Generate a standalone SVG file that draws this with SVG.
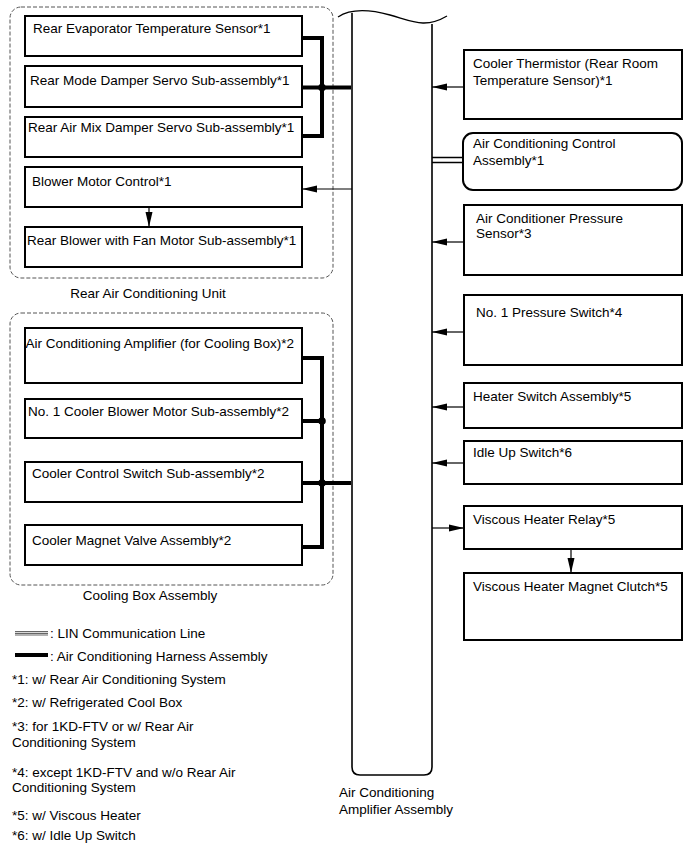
<svg xmlns="http://www.w3.org/2000/svg" width="690" height="854" viewBox="0 0 690 854">
<defs>
<style>
text{font-family:"Liberation Sans",Arial,sans-serif;font-size:13.5px;fill:#000}
.box{fill:#fff;stroke:#000;stroke-width:2}
.grp{fill:none;stroke:#555;stroke-width:1;stroke-dasharray:4 2}
.thin{fill:none;stroke:#000;stroke-width:1.2}
.col{fill:none;stroke:#000;stroke-width:1.6}
.bus{fill:none;stroke:#000;stroke-width:4}
</style>
<marker id="ah" markerUnits="userSpaceOnUse" markerWidth="16" markerHeight="10" refX="15" refY="4" orient="auto">
<path d="M0,0.5 L15,4 L0,7.5 Z" fill="#000"/>
</marker>
</defs>
<rect width="690" height="854" fill="#fff"/>

<g id="amplifier">
<path class="col" d="M352,13 V767 Q352,775 360,775 H424 Q432,775 432,767 V24"/>
<path fill="none" stroke="#000" stroke-width="1.3" d="M338,17 C350,9 368,9 390,15 S425,29 447,16"/>
<text x="339" y="797">Air Conditioning</text>
<text x="339" y="814">Amplifier Assembly</text>
</g>

<g id="rear-unit">
<rect class="grp" x="10" y="7" width="323" height="271" rx="11"/>
<text x="148" y="298" text-anchor="middle">Rear Air Conditioning Unit</text>
</g>
<g id="rear-evap"><rect class="box" x="25" y="16" width="277" height="40"/><text x="33" y="33">Rear Evaporator Temperature Sensor*1</text></g>
<g id="rear-mode"><rect class="box" x="25" y="66" width="277" height="41"/><text x="30" y="84.5">Rear Mode Damper Servo Sub-assembly*1</text></g>
<g id="rear-airmix"><rect class="box" x="25" y="117" width="277" height="40"/><text x="28" y="132">Rear Air Mix Damper Servo Sub-assembly*1</text></g>
<g id="blower-ctrl"><rect class="box" x="25" y="167" width="277" height="40"/><text x="32" y="186">Blower Motor Control*1</text></g>
<g id="rear-blower"><rect class="box" x="25" y="227" width="277" height="40"/><text x="27" y="244.5">Rear Blower with Fan Motor Sub-assembly*1</text></g>

<g id="cooling-box">
<rect class="grp" x="10" y="313" width="323" height="272" rx="11"/>
<text x="150" y="600" text-anchor="middle">Cooling Box Assembly</text>
</g>
<g id="cb-amp"><rect class="box" x="25" y="328" width="277" height="55"/><text x="25.5" y="348">Air Conditioning Amplifier (for Cooling Box)*2</text></g>
<g id="cb-blower"><rect class="box" x="25" y="399" width="277" height="39"/><text x="28" y="416">No. 1 Cooler Blower Motor Sub-assembly*2</text></g>
<g id="cb-switch"><rect class="box" x="25" y="462" width="277" height="40"/><text x="32" y="478">Cooler Control Switch Sub-assembly*2</text></g>
<g id="cb-valve"><rect class="box" x="25" y="525" width="277" height="40"/><text x="32" y="544.5">Cooler Magnet Valve Assembly*2</text></g>

<g id="cooler-thermistor"><rect class="box" x="464" y="50" width="218" height="69"/><text x="473" y="68">Cooler Thermistor (Rear Room</text><text x="473" y="84.5">Temperature Sensor)*1</text></g>
<g id="ac-control"><rect class="box" x="463" y="133" width="219" height="57" rx="10"/><text x="473" y="148">Air Conditioning Control</text><text x="473" y="164.5">Assembly*1</text></g>
<g id="pressure-sensor"><rect class="box" x="464" y="205" width="218" height="70"/><text x="476" y="223">Air Conditioner Pressure</text><text x="476" y="238">Sensor*3</text></g>
<g id="pressure-switch"><rect class="box" x="464" y="295" width="218" height="70"/><text x="476" y="317">No. 1 Pressure Switch*4</text></g>
<g id="heater-switch"><rect class="box" x="464" y="383" width="218" height="45"/><text x="473" y="401">Heater Switch Assembly*5</text></g>
<g id="idle-up"><rect class="box" x="464" y="441" width="218" height="43"/><text x="473" y="457">Idle Up Switch*6</text></g>
<g id="viscous-relay"><rect class="box" x="464" y="506" width="218" height="43"/><text x="473" y="524">Viscous Heater Relay*5</text></g>
<g id="magnet-clutch"><rect class="box" x="464" y="573" width="218" height="67"/><text x="473" y="591">Viscous Heater Magnet Clutch*5</text></g>

<g id="connectors">
<!-- rear unit harness -->
<path class="bus" d="M302,38 H322 V136 H302 M302,87.5 H351"/>
<circle cx="322" cy="87.5" r="3.8" fill="#000"/>
<!-- cooling box harness -->
<path class="bus" d="M302,358 H322 V547 H302 M302,421 H322 M302,483 H351"/>
<circle cx="322" cy="421" r="3.8" fill="#000"/>
<circle cx="322" cy="483" r="3.8" fill="#000"/>
<!-- arrows -->
<line class="thin" x1="352" y1="189" x2="302" y2="189" marker-end="url(#ah)"/>
<line class="thin" x1="149" y1="207" x2="149" y2="227" marker-end="url(#ah)"/>
<line class="thin" x1="464" y1="87" x2="432" y2="87" marker-end="url(#ah)"/>
<line class="thin" x1="464" y1="242" x2="432" y2="242" marker-end="url(#ah)"/>
<line class="thin" x1="464" y1="332" x2="432" y2="332" marker-end="url(#ah)"/>
<line class="thin" x1="464" y1="407" x2="432" y2="407" marker-end="url(#ah)"/>
<line class="thin" x1="464" y1="463" x2="432" y2="463" marker-end="url(#ah)"/>
<line class="thin" x1="432" y1="528" x2="464" y2="528" marker-end="url(#ah)"/>
<line class="thin" x1="571" y1="549" x2="571" y2="573" marker-end="url(#ah)"/>
<!-- LIN -->
<path fill="none" stroke="#000" stroke-width="1.3" d="M432,157.5 H463 M432,162.5 H463"/>
</g>

<g id="legend">
<path fill="none" stroke="#666" stroke-width="1.2" d="M15,631.5 H48 M15,633.3 H48 M15,635 H48"/>
<text x="50" y="637.5">: LIN Communication Line</text>
<line x1="15" y1="655" x2="48" y2="655" stroke="#000" stroke-width="4"/>
<text x="50" y="660.5">: Air Conditioning Harness Assembly</text>
<text x="12" y="683.5">*1: w/ Rear Air Conditioning System</text>
<text x="12" y="706.5">*2: w/ Refrigerated Cool Box</text>
<text x="12" y="730.5">*3: for 1KD-FTV or w/ Rear Air</text>
<text x="12" y="746.5">Conditioning System</text>
<text x="12" y="776.5">*4: except 1KD-FTV and w/o Rear Air</text>
<text x="12" y="792">Conditioning System</text>
<text x="12" y="819.5">*5: w/ Viscous Heater</text>
<text x="12" y="839.5">*6: w/ Idle Up Switch</text>
</g>
</svg>
